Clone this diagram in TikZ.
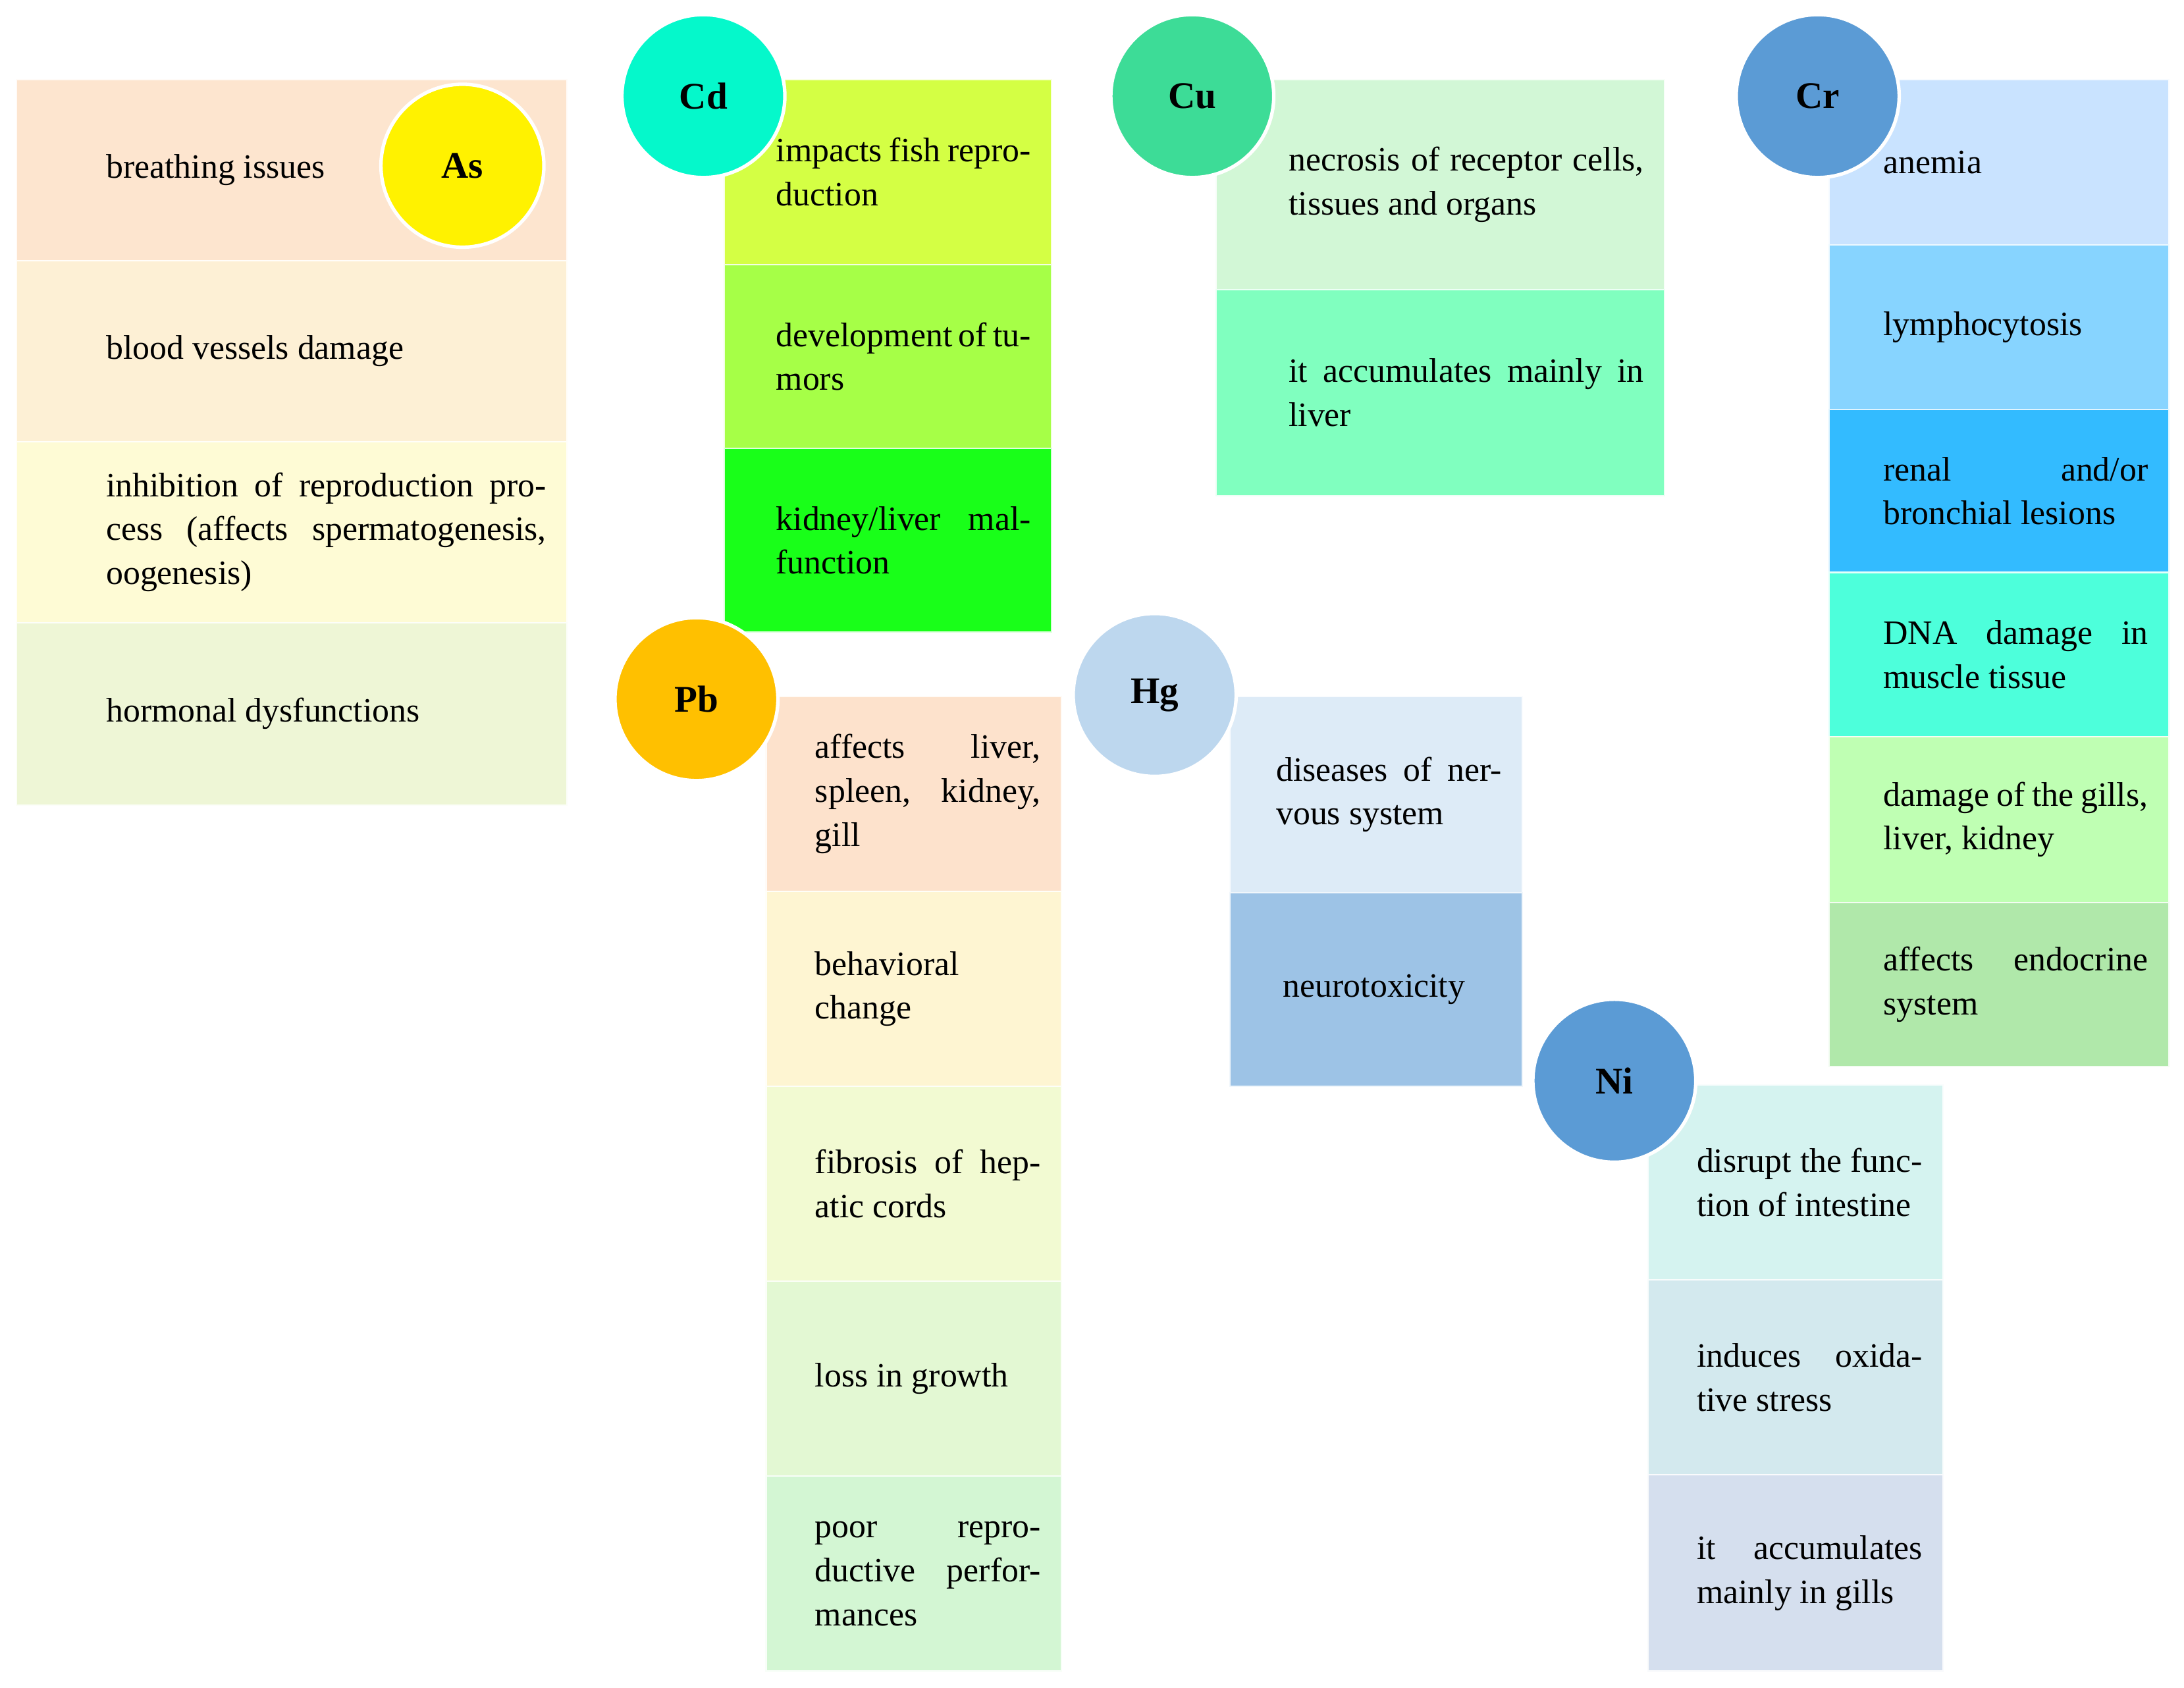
\documentclass[tikz,border=0pt]{standalone}
\usepackage{fontspec}
\setmainfont{Liberation Serif}
\begin{document}
\begin{tikzpicture}[x=1pt,y=-1pt,
  el/.style={circle,draw=white,line width=2.5pt,minimum size=117pt,inner sep=0pt,font=\fontsize{27}{30}\selectfont\bfseries},
  tx/.style={anchor=west,inner sep=0pt,align=justify,font=\fontsize{24.5}{31.5}\selectfont}]
\useasboundingbox (0,0) rectangle (1568,1212);
\newcommand{\cell}[8]{%
  \fill[#6,draw=white!85!#6,line width=1pt] (#2,#3) rectangle (#4,#5);
  \pgfmathsetmacro{\tw}{#4-#7-15}
  \pgfmathsetmacro{\cy}{(#3+#5)/2}
  \node[tx,text width=\tw pt] (#1) at (#7,\cy) {#8};}
% As
\definecolor{a1}{HTML}{FDE5CF}\definecolor{a2}{HTML}{FDF0D5}\definecolor{a3}{HTML}{FEFBD5}\definecolor{a4}{HTML}{EEF6D6}
\cell{as1}{12}{57}{407}{187}{a1}{76}{breathing issues}
\cell{as2}{12}{187}{407}{317}{a2}{76}{blood vessels damage}
\cell{as3}{12}{317}{407}{447}{a3}{76}{inhibition of reproduction process (affects spermatogenesis, oogenesis)}
\cell{as4}{12}{447}{407}{578}{a4}{76}{hormonal dysfunctions}
\node[el,fill=yellow] (As) at (332,119) {As};
% Cd
\definecolor{d1}{HTML}{D4FF44}\definecolor{d2}{HTML}{A6FF47}\definecolor{d3}{HTML}{19FF19}
\cell{cd1}{520}{57}{755}{190}{d1}{557}{impacts fish reproduction}
\cell{cd2}{520}{190}{755}{322}{d2}{557}{development of tumors}
\cell{cd3}{520}{322}{755}{454}{d3}{557}{kidney/liver malfunction}
\definecolor{cdc}{HTML}{05F8CB}
\node[el,fill=cdc] (Cd) at (505,69) {Cd};
% Cu
\definecolor{u1}{HTML}{D2F7D6}\definecolor{u2}{HTML}{80FFBF}
\cell{cu1}{873}{57}{1195}{208}{u1}{925}{necrosis of receptor cells, tissues and organs}
\cell{cu2}{873}{208}{1195}{356}{u2}{925}{it accumulates mainly in liver}
\definecolor{cuc}{HTML}{3DDC97}
\node[el,fill=cuc] (Cu) at (856,69) {Cu};
% Cr
\definecolor{r1}{HTML}{C9E3FF}\definecolor{r2}{HTML}{87D4FF}\definecolor{r3}{HTML}{33BBFF}
\definecolor{r4}{HTML}{4DFFDB}\definecolor{r5}{HTML}{BFFFB3}\definecolor{r6}{HTML}{B0E8AA}
\cell{cr1}{1313}{57}{1557}{176}{r1}{1352}{anemia}
\cell{cr2}{1313}{176}{1557}{294}{r2}{1352}{lymphocytosis}
\cell{cr3}{1313}{294}{1557}{411}{r3}{1352}{renal and/or bronchial lesions}
\cell{cr4}{1313}{411}{1557}{529}{r4}{1352}{DNA damage in muscle tissue}
\cell{cr5}{1313}{529}{1557}{648}{r5}{1352}{damage of the gills, liver, kidney}
\cell{cr6}{1313}{648}{1557}{766}{r6}{1352}{affects endocrine system}
\definecolor{blu}{HTML}{5B9BD5}
\node[el,fill=blu] (Cr) at (1305,69) {Cr};
% Pb
\definecolor{p1}{HTML}{FDE2CC}\definecolor{p2}{HTML}{FEF5D2}\definecolor{p3}{HTML}{F2FAD2}
\definecolor{p4}{HTML}{E3F8D3}\definecolor{p5}{HTML}{D3F6D3}
\cell{pb1}{550}{500}{762}{640}{p1}{585}{affects liver, spleen, kidney, gill}
\cell{pb2}{550}{640}{762}{780}{p2}{585}{behavioral change}
\cell{pb3}{550}{780}{762}{920}{p3}{585}{fibrosis of hepatic cords}
\cell{pb4}{550}{920}{762}{1060}{p4}{585}{loss in growth}
\cell{pb5}{550}{1060}{762}{1200}{p5}{585}{poor reproductive performances}
\definecolor{pbc}{HTML}{FFC000}
\node[el,fill=pbc] (Pb) at (500,502) {Pb};
% Hg
\definecolor{h1}{HTML}{DDEBF7}\definecolor{h2}{HTML}{9DC3E6}
\cell{hg1}{883}{500}{1093}{641}{h1}{916}{diseases of nervous system}
\cell{hg2}{883}{641}{1093}{780}{h2}{921}{neurotoxicity}
\definecolor{hgc}{HTML}{BDD7EE}
\node[el,fill=hgc] (Hg) at (829,499) {Hg};
% Ni
\definecolor{n1}{HTML}{D5F3F0}\definecolor{n2}{HTML}{D3E9EE}\definecolor{n3}{HTML}{D5DFEE}
\cell{ni1}{1183}{779}{1395}{919}{n1}{1218}{disrupt the function of intestine}
\cell{ni2}{1183}{919}{1395}{1059}{n2}{1218}{induces oxidative stress}
\cell{ni3}{1183}{1059}{1395}{1200}{n3}{1218}{it accumulates mainly in gills}
\node[el,fill=blu] (Ni) at (1159,776) {Ni};
\end{tikzpicture}
\end{document}
